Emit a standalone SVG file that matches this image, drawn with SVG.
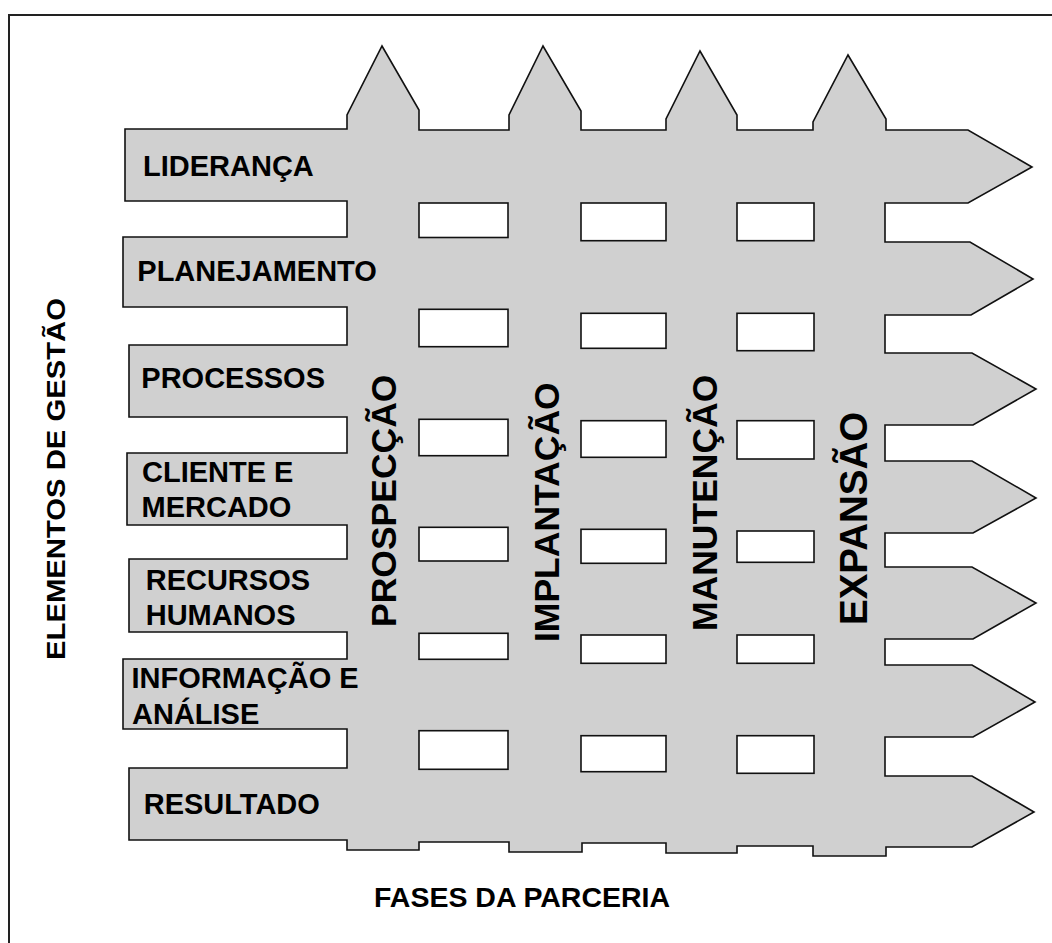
<svg xmlns="http://www.w3.org/2000/svg" width="1052" height="943" viewBox="0 0 1052 943">
<style>
.shape{fill:#d0d0d0;stroke:#111;stroke-width:1.6;stroke-linejoin:miter}
.hole{fill:#fff;stroke:#111;stroke-width:1.6}
.lbl{font-family:"Liberation Sans",Arial,sans-serif;font-weight:bold;font-size:29px;fill:#000}
.ph{font-family:"Liberation Sans",Arial,sans-serif;font-weight:bold;font-size:35.5px;fill:#000}
.frame{fill:none;stroke:#222;stroke-width:2}
</style>
<rect width="1052" height="943" fill="#fff"/>
<path class="frame" d="M9,943 V15 H1052"/>
<g id="grid">
<path class="shape" d="M125,129 H347 V115 L382,46 L419,110 V130 H509 V115 L543,46 L581,111 V130 H666 V119 L700,51 L737,115 V130 H813 V122 L848,55 L886,119 V130 H968 L1032,167 L968,203 H885 V242 H970 L1033,279 L971,315 H885 V353 H972 L1036,389 L973,425 H885 V461 H972 L1036,498 L973,533 H885 V567 H972 L1036,603 L973,639 H885 V665 H972 L1035,702 L973,737 H885 V776 H972 L1034,812 L972,847 H886 V856 H813 V846 H737 V853 H666 V843 H582 V852 H509 V842 H419 V850 H347 V840 H129 V768 H347 V729 H123 V659 H347 V632 H129 V559 H347 V525 H127 V453 H347 V417 H129 V345 H347 V307 H123 V237 H347 V201 H125 Z"/>
</g>
<g id="holes">
<rect class="hole" x="419" y="203" width="89" height="34.5"/>
<rect class="hole" x="581" y="203" width="85" height="37.7"/>
<rect class="hole" x="737" y="203" width="77" height="37.7"/>
<rect class="hole" x="419" y="309.3" width="89" height="37.4"/>
<rect class="hole" x="581" y="313.3" width="85" height="35"/>
<rect class="hole" x="737" y="313.3" width="77" height="37.4"/>
<rect class="hole" x="419" y="419.3" width="89" height="36.4"/>
<rect class="hole" x="581" y="420.7" width="85" height="36.6"/>
<rect class="hole" x="737" y="420.7" width="77" height="38.3"/>
<rect class="hole" x="419" y="527.3" width="89" height="33.7"/>
<rect class="hole" x="581" y="529.3" width="85" height="34"/>
<rect class="hole" x="737" y="531" width="77" height="31.3"/>
<rect class="hole" x="419" y="633.3" width="89" height="26"/>
<rect class="hole" x="581" y="635" width="85" height="28.3"/>
<rect class="hole" x="737" y="635" width="77" height="28.3"/>
<rect class="hole" x="419" y="730.7" width="89" height="38.6"/>
<rect class="hole" x="581" y="735.7" width="85" height="36"/>
<rect class="hole" x="737" y="735.7" width="77" height="37.6"/>
</g>
<g id="row-lideranca"><text class="lbl" x="143" y="175.7">LIDERANÇA</text></g>
<g id="row-planejamento"><text class="lbl" x="137.3" y="280.7">PLANEJAMENTO</text></g>
<g id="row-processos"><text class="lbl" x="141.3" y="387.7">PROCESSOS</text></g>
<g id="row-cliente"><text class="lbl" x="142" y="481.7">CLIENTE E</text><text class="lbl" x="141.5" y="517.3">MERCADO</text></g>
<g id="row-recursos"><text class="lbl" x="145.7" y="590">RECURSOS</text><text class="lbl" x="145.7" y="625">HUMANOS</text></g>
<g id="row-informacao"><text class="lbl" x="131.5" y="688.3">INFORMAÇÃO E</text><text class="lbl" x="132" y="724">ANÁLISE</text></g>
<g id="row-resultado"><text class="lbl" x="143.7" y="814">RESULTADO</text></g>
<g id="col-prospeccao"><text class="ph" transform="translate(396,627) rotate(-90)">PROSPECÇÃO</text></g>
<g id="col-implantacao"><text class="ph" transform="translate(558.5,642) rotate(-90)">IMPLANTAÇÃO</text></g>
<g id="col-manutencao"><text class="ph" transform="translate(717,631) rotate(-90)">MANUTENÇÃO</text></g>
<g id="col-expansao"><text class="ph" style="font-size:38.5px" transform="translate(866.5,625) rotate(-90)">EXPANSÃO</text></g>
<g id="axis-y"><text class="lbl" style="font-size:25px" textLength="362" lengthAdjust="spacingAndGlyphs" transform="translate(65,660) rotate(-90)">ELEMENTOS DE GESTÃO</text></g>
<g id="axis-x"><text class="lbl" style="font-size:28.5px" x="374" y="906.7">FASES DA PARCERIA</text></g>
</svg>
